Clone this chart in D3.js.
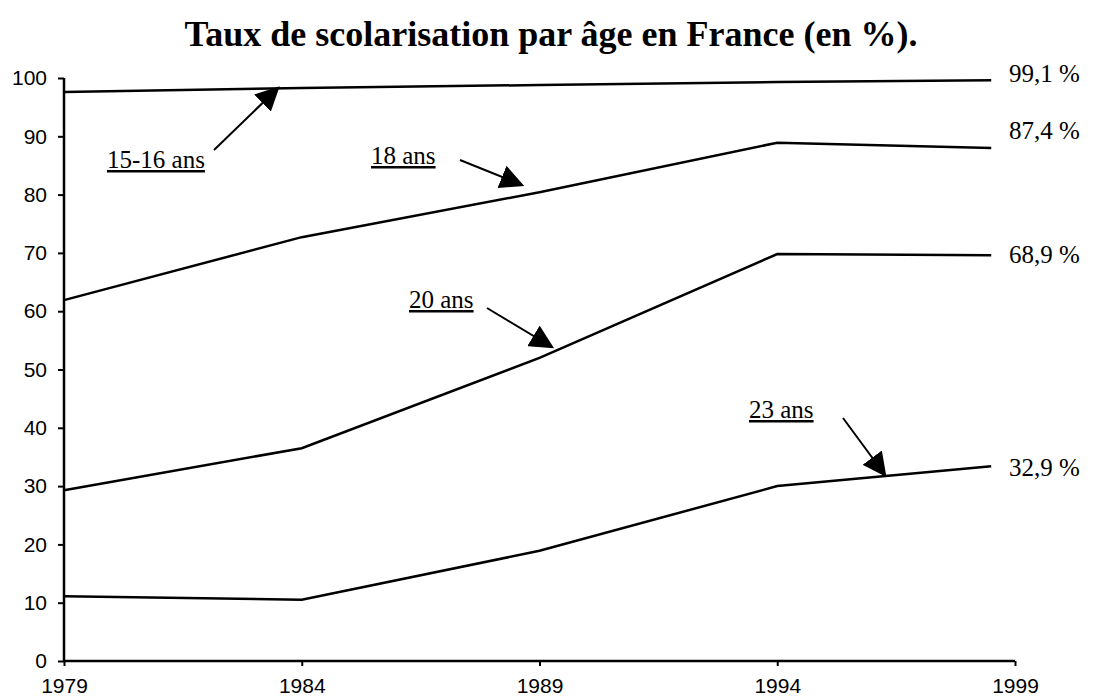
<!DOCTYPE html>
<html>
<head>
<meta charset="utf-8">
<script src="https://cdn.jsdelivr.net/npm/d3@7"></script>
<style>
  body { margin: 0; background: #fff; }
  svg { display: block; }
</style>
</head>
<body>
<svg id="chart" width="1095" height="698"></svg>
<script>
// ── Data ───────────────────────────────────────────────────────────────
const years      = [1979, 1984, 1989, 1994, 1998.5];
const tickYears  = [1979, 1984, 1989, 1994, 1999];
const yTicks     = [0, 10, 20, 30, 40, 50, 60, 70, 80, 90, 100];
const age15_16   = [97.6, 98.3, 98.8, 99.3, 99.6];
const age18      = [61.9, 72.7, 80.4, 88.9, 88.0];
const age20      = [29.3, 36.5, 52.0, 69.8, 69.6];
const age23      = [11.1, 10.5, 18.9, 30.0, 33.4];
const endLabels  = ['99,1 %', '87,4 %', '68,9 %', '32,9 %'];
const seriesNames = ['15-16 ans', '18 ans', '20 ans', '23 ans'];

const series = [age15_16, age18, age20, age23];

const svg = d3.select('#chart');
const x = d3.scaleLinear().domain([1979, 1999]).range([64, 1015]);
const y = d3.scaleLinear().domain([0, 100]).range([661, 78]);
const serif = '"Liberation Serif", "Times New Roman", serif';

// ── Title ──────────────────────────────────────────────────────────────
svg.append('text')
  .attr('x', 551).attr('y', 46)
  .attr('text-anchor', 'middle')
  .attr('font-family', serif)
  .attr('font-weight', 'bold').attr('font-size', 36)
  .text('Taux de scolarisation par âge en France (en %).');

// ── Axes ───────────────────────────────────────────────────────────────
const yAxis = svg.append('g').attr('transform', `translate(${x(1979)},0)`)
  .call(d3.axisLeft(y).tickValues(yTicks).tickSize(6).tickPadding(11).tickFormat(d3.format('d')));
const xAxis = svg.append('g').attr('transform', `translate(0,${y(0)})`)
  .call(d3.axisBottom(x).tickValues(tickYears).tickSize(5).tickPadding(12).tickFormat(d3.format('d')));

[yAxis, xAxis].forEach(g => {
  g.select('.domain').attr('stroke', '#000').attr('stroke-width', 2.5);
  g.selectAll('.tick line').attr('stroke', '#000').attr('stroke-width', 2);
  g.selectAll('.tick text')
    .attr('fill', '#000')
    .attr('font-family', '"Liberation Sans", Arial, sans-serif')
    .attr('font-size', 21);
});
yAxis.select('.domain').attr('d', `M0,${y(0)}V${y(100)}`);
xAxis.select('.domain').attr('d', `M${x(1979)},0H${x(1999)}`);

// ── Lines ──────────────────────────────────────────────────────────────
const line = d3.line().x((d, i) => x(years[i])).y(d => y(d));
svg.append('g').selectAll('path').data(series).join('path')
  .attr('d', d => line(d))
  .attr('fill', 'none').attr('stroke', '#000').attr('stroke-width', 2.5);

// ── End value labels ──────────────────────────────────────────────────
const endY = [73, 130, 254, 467];
svg.append('g').selectAll('text').data(series).join('text')
  .attr('x', 1009)
  .attr('y', (d, i) => endY[i])
  .attr('dy', '0.35em')
  .attr('font-family', serif).attr('font-size', 25)
  .text((d, i) => endLabels[i]);

// ── Annotations with arrows ───────────────────────────────────────────
svg.append('defs').append('marker')
  .attr('id', 'arrow').attr('viewBox', '0 0 10 10')
  .attr('refX', 9).attr('refY', 5)
  .attr('markerWidth', 24).attr('markerHeight', 24)
  .attr('markerUnits', 'userSpaceOnUse')
  .attr('orient', 'auto')
  .append('path').attr('d', 'M0,0L10,5L0,10Z').attr('fill', '#000');

// label position [x, y baseline], arrow [x1, y1, x2, y2]
const notes = [
  { t: seriesNames[0], lx: 107, ly: 168, a: [214, 150, 278, 88] },
  { t: seriesNames[1], lx: 371, ly: 164, a: [460, 160, 522, 185] },
  { t: seriesNames[2], lx: 409, ly: 308, a: [487, 308, 552, 347] },
  { t: seriesNames[3], lx: 749, ly: 418, a: [843, 418, 885, 475] }
];
const ng = svg.append('g');
notes.forEach(n => {
  ng.append('text')
    .attr('x', n.lx).attr('y', n.ly)
    .attr('font-family', serif).attr('font-size', 25)
    .attr('text-decoration', 'underline')
    .text(n.t);
  ng.append('line')
    .attr('x1', n.a[0]).attr('y1', n.a[1]).attr('x2', n.a[2]).attr('y2', n.a[3])
    .attr('stroke', '#000').attr('stroke-width', 2)
    .attr('marker-end', 'url(#arrow)');
});
</script>
</body>
</html>
